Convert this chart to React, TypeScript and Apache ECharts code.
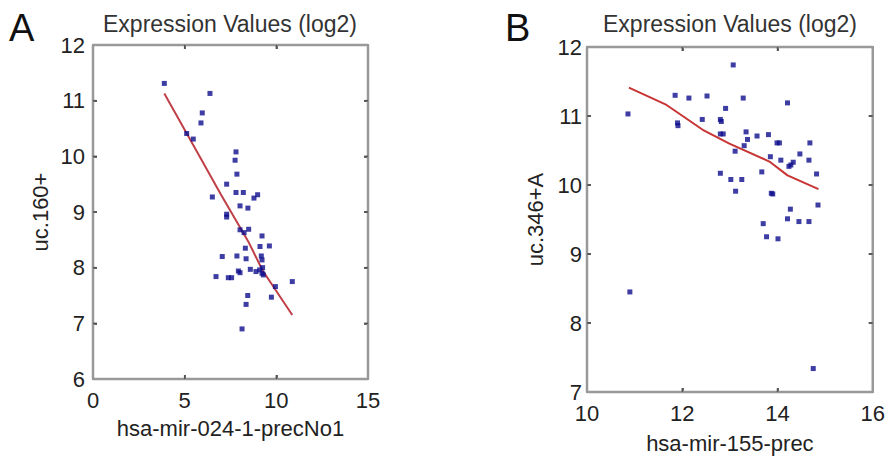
import React, { useEffect, useRef } from "react";
import * as echarts from "echarts";

// Panel A: hsa-mir-024-1-precNo1 vs uc.160+
const pointsA: [number, number][] = [
  [3.89, 11.31], [6.38, 11.13], [5.96, 10.78], [5.89, 10.6], [5.11, 10.41],
  [5.47, 10.31], [7.8, 10.08], [7.75, 9.93], [7.85, 9.68], [7.29, 9.5],
  [7.8, 9.35], [8.2, 9.35], [8.78, 9.25], [8.98, 9.31], [6.51, 9.27],
  [8.02, 9.11], [8.45, 9.07], [7.29, 8.96], [7.29, 8.91], [8.02, 8.68],
  [8.24, 8.63], [8.49, 8.69], [9.22, 8.57], [9.62, 8.39], [9.11, 8.38],
  [8.31, 8.35], [7.05, 8.2], [7.85, 8.21], [8.35, 8.16], [9.18, 8.21],
  [9.22, 8.14], [9.25, 8.0], [8.58, 7.97], [8.89, 7.93], [9.09, 7.96],
  [7.93, 7.94], [8.02, 7.91], [9.22, 7.9], [9.29, 7.87], [6.71, 7.84],
  [7.38, 7.82], [7.56, 7.82], [9.95, 7.66], [10.87, 7.75], [8.44, 7.5],
  [9.73, 7.47], [8.35, 7.34], [8.13, 6.9],
];
const fitA: [number, number][] = [
  [3.89, 11.13], [5.1, 10.42], [7.0, 9.3], [8.5, 8.45], [9.25, 7.95], [10.87, 7.15],
];

// Panel B: hsa-mir-155-prec vs uc.346+A
const pointsB: [number, number][] = [
  [10.86, 11.03], [10.9, 8.45], [11.85, 11.3], [12.14, 11.26], [12.52, 11.29],
  [13.07, 11.74], [13.28, 11.26], [12.91, 11.11], [14.21, 11.19], [11.9, 10.9],
  [11.91, 10.86], [12.42, 10.95], [12.8, 10.95], [12.82, 10.92], [12.8, 10.74],
  [12.86, 10.74], [13.34, 10.77], [13.57, 10.71], [13.81, 10.73], [13.37, 10.66],
  [13.3, 10.57], [13.11, 10.49], [13.99, 10.61], [14.04, 10.61], [14.68, 10.61],
  [14.47, 10.45], [13.85, 10.41], [14.07, 10.36], [14.66, 10.36], [14.33, 10.33],
  [14.28, 10.29], [14.24, 10.27], [13.67, 10.19], [12.8, 10.17], [14.82, 10.16],
  [13.02, 10.08], [13.25, 10.08], [13.12, 9.91], [13.87, 9.88], [13.9, 9.87],
  [14.85, 9.71], [14.27, 9.65], [14.21, 9.51], [14.45, 9.47], [14.66, 9.47],
  [13.7, 9.44], [13.77, 9.25], [14.01, 9.22], [14.75, 7.34],
];
const fitB: [number, number][] = [
  [10.88, 11.41], [11.67, 11.16], [12.43, 10.8], [12.99, 10.6], [13.83, 10.34],
  [14.21, 10.14], [14.86, 9.94],
];

// axis ranges and interior tick values
const xRangeA: [number, number] = [0, 15];
const yRangeA: [number, number] = [6, 12];
const xRangeB: [number, number] = [10, 16];
const yRangeB: [number, number] = [7, 12];
const xTicksA = [5, 10];
const yTicksA = [7, 8, 9, 10, 11];
const xTicksB = [12, 14];
const yTicksB = [8, 9, 10, 11];

const titleText = "Expression Values (log2)";
const panelLabels = ["A", "B"];
const xNameA = "hsa-mir-024-1-precNo1";
const yNameA = "uc.160+";
const xNameB = "hsa-mir-155-prec";
const yNameB = "uc.346+A";

const FONT = "Liberation Sans, Arial, sans-serif";

const GRID_A = { left: 93, top: 45, width: 275, height: 334 };
const GRID_B = { left: 587, top: 47, width: 287, height: 345 };
const TICK_PX = 4;

const frameData = (xr: [number, number], yr: [number, number]) => [
  [xr[0], yr[0]], [xr[1], yr[0]], [xr[1], yr[1]], [xr[0], yr[1]], [xr[0], yr[0]],
];

export default function App() {
  const ref = useRef<HTMLDivElement>(null);
  useEffect(() => {
    if (!ref.current) return;
    const chart = echarts.init(ref.current, undefined, { renderer: "svg" });
    const label = (margin: number) => ({
      show: true,
      fontSize: 22,
      color: "#222",
      fontFamily: FONT,
      margin,
    });
    const line = { show: true, onZero: false, lineStyle: { color: "#8a8a8a", width: 2 } };
    const tick = { show: true, inside: true, length: 4, lineStyle: { color: "#333", width: 1.5 } };
    const nameStyle = { fontSize: 22, color: "#222", fontFamily: FONT };
    const mkX = (gi: number, r: [number, number], interval: number, name: string, gap: number) => [
      {
        type: "value", gridIndex: gi, min: r[0], max: r[1], interval, position: "bottom",
        axisLine: line, axisTick: tick, splitLine: { show: false },
        axisLabel: label(10), name, nameLocation: "middle", nameGap: gap, nameTextStyle: nameStyle,
      },
      {
        type: "value", gridIndex: gi, min: r[0], max: r[1], interval, position: "top",
        axisLine: line, axisTick: tick, splitLine: { show: false },
        axisLabel: { show: false },
      },
    ];
    const mkY = (gi: number, r: [number, number], name: string, gap: number, margin: number) => [
      {
        type: "value", gridIndex: gi, min: r[0], max: r[1], interval: 1, position: "left",
        axisLine: line, axisTick: tick, splitLine: { show: false },
        axisLabel: label(margin), name, nameLocation: "middle", nameGap: gap, nameTextStyle: nameStyle,
      },
      {
        type: "value", gridIndex: gi, min: r[0], max: r[1], interval: 1, position: "right",
        axisLine: line, axisTick: tick, splitLine: { show: false },
        axisLabel: { show: false },
      },
    ];
    const titleStyle = { fontSize: 23, fontWeight: "normal", color: "#333", fontFamily: FONT };
    const frameSeries = (xi: number, xr: [number, number], yr: [number, number]) => ({
      type: "line", xAxisIndex: xi, yAxisIndex: xi, data: frameData(xr, yr), showSymbol: false,
      silent: true, clip: false, lineStyle: { color: "#999999", width: 2.5 }, z: 1,
    });
    const tickSeries = (
      xi: number,
      xr: [number, number],
      yr: [number, number],
      xt: number[],
      yt: number[],
      g: typeof GRID_A
    ) => {
      const dx = (TICK_PX / g.width) * (xr[1] - xr[0]);
      const dy = (TICK_PX / g.height) * (yr[1] - yr[0]);
      const segs: number[][][] = [];
      xt.forEach((v) => {
        segs.push([[v, yr[0]], [v, yr[0] + dy]]);
        segs.push([[v, yr[1]], [v, yr[1] - dy]]);
      });
      yt.forEach((v) => {
        segs.push([[xr[0], v], [xr[0] + dx, v]]);
        segs.push([[xr[1], v], [xr[1] - dx, v]]);
      });
      return segs.map((s) => ({
        type: "line", xAxisIndex: xi, yAxisIndex: xi, data: s, showSymbol: false,
        silent: true, clip: false, lineStyle: { color: "#555555", width: 1.5 }, z: 1,
      }));
    };
    chart.setOption({
      animation: false,
      backgroundColor: "#fff",
      grid: [GRID_A, GRID_B],
      xAxis: [...mkX(0, xRangeA, 5, xNameA, 38), ...mkX(1, xRangeB, 2, xNameB, 40)],
      yAxis: [...mkY(0, yRangeA, yNameA, 42, 8), ...mkY(1, yRangeB, yNameB, 41, 5)],
      title: [
        { text: titleText, left: 230, top: 12, padding: 0, textAlign: "center", textStyle: titleStyle },
        { text: titleText, left: 730, top: 12, padding: 0, textAlign: "center", textStyle: titleStyle },
        { text: panelLabels[0], left: 9, top: 9, padding: 0, textStyle: { fontSize: 38, fontWeight: "normal", color: "#111", fontFamily: FONT } },
        { text: panelLabels[1], left: 505, top: 9, padding: 0, textStyle: { fontSize: 38, fontWeight: "normal", color: "#111", fontFamily: FONT } },
      ],
      series: [
        frameSeries(0, xRangeA, yRangeA),
        frameSeries(2, xRangeB, yRangeB),
        ...tickSeries(0, xRangeA, yRangeA, xTicksA, yTicksA, GRID_A),
        ...tickSeries(2, xRangeB, yRangeB, xTicksB, yTicksB, GRID_B),
        {
          type: "scatter", xAxisIndex: 0, yAxisIndex: 0, data: pointsA,
          symbol: "rect", symbolSize: 5, itemStyle: { color: "#0c0c8c" }, z: 3,
        },
        {
          type: "line", xAxisIndex: 0, yAxisIndex: 0, data: fitA, showSymbol: false,
          lineStyle: { color: "#c04048", width: 2 }, z: 2,
        },
        {
          type: "scatter", xAxisIndex: 2, yAxisIndex: 2, data: pointsB,
          symbol: "rect", symbolSize: 5, itemStyle: { color: "#0c0c8c" }, z: 3,
        },
        {
          type: "line", xAxisIndex: 2, yAxisIndex: 2, data: fitB, showSymbol: false,
          lineStyle: { color: "#c83434", width: 2 }, z: 2,
        },
      ],
    });
    return () => chart.dispose();
  }, []);
  return (
    <div
      ref={ref}
      style={{ position: "fixed", left: 0, top: 0, width: 888, height: 459, background: "#fff" }}
    />
  );
}
